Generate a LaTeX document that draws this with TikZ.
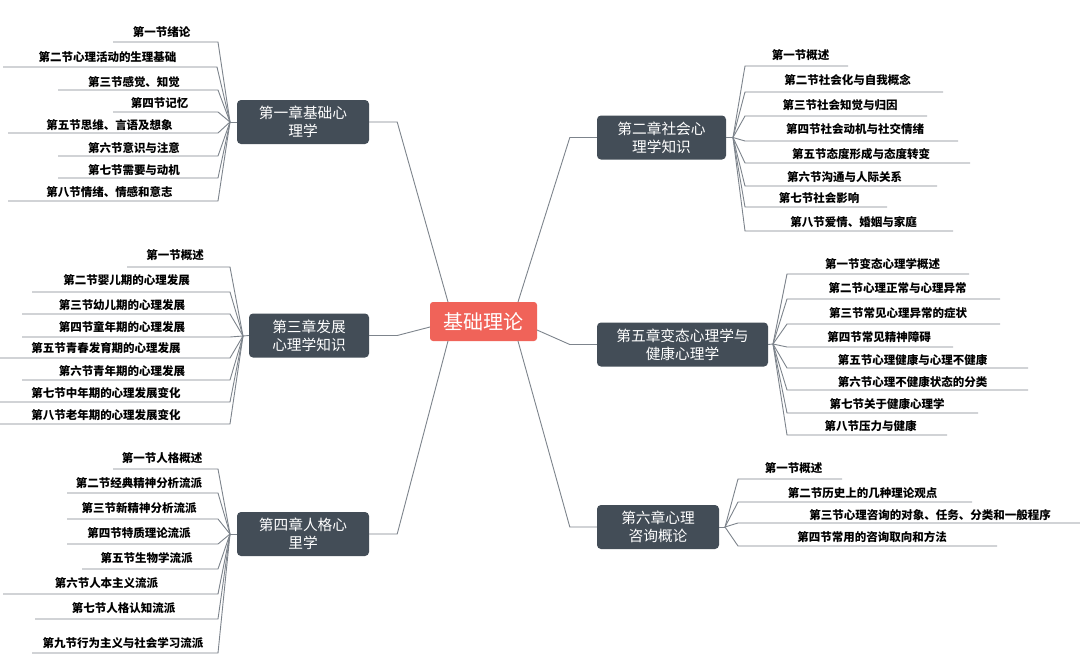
\documentclass[tikz,border=0pt]{standalone}
\usepackage{fontspec}
\setmainfont{Noto Sans CJK SC}
\usepackage{tikz}
\usetikzlibrary{positioning}

\definecolor{rootred}{RGB}{240,99,89}
\definecolor{chapgray}{RGB}{67,77,87}
\definecolor{linegray}{RGB}{125,132,140}

\tikzset{
  root/.style={fill=rootred, text=white, rounded corners=3pt, minimum width=107pt,
    minimum height=39pt, inner sep=0pt, font=\fontsize{20}{24}\selectfont},
  chap/.style={fill=chapgray, text=white, rounded corners=4pt, minimum height=44pt,
    inner sep=0pt, align=center, font=\fontsize{14.7}{18}\selectfont},
  leaf/.style={inner sep=0pt, text=black, font=\fontsize{11.5}{13}\selectfont\bfseries},
  branch/.style={draw=linegray, line width=0.9pt},
}

\begin{document}
\begin{tikzpicture}[x=1pt, y=-1pt]
  \useasboundingbox (0,0) rectangle (1080,659);
  \fill[white] (0,0) rectangle (1080,659);

  \node[root] (root) at (483.5,321.5) {基础理论};

  \node[chap, minimum width=132pt] (c1) at (303,122) {第一章基础心\\理学};
  \node[chap, minimum width=129pt] (c2) at (661.5,137.5) {第二章社会心\\理学知识};
  \node[chap, minimum width=120pt] (c3) at (309,335.5) {第三章发展\\心理学知识};
  \node[chap, minimum width=132pt] (c4) at (303,534) {第四章人格心\\里学};
  \node[chap, minimum width=171pt] (c5) at (682.5,344.5) {第五章变态心理学与\\健康心理学};
  \node[chap, minimum width=122pt] (c6) at (658,527) {第六章心理\\咨询概论};

  \coordinate (r1) at (448,302);
  \coordinate (r2) at (518,302);
  \coordinate (r3) at (430,327);
  \coordinate (r4) at (448,341);
  \coordinate (r5) at (537,330);
  \coordinate (r6) at (518,341);

  \draw[branch] (c1.east) -- ++(28,0) -- (r1);
  \draw[branch] (c2.west) -- ++(-27,0) -- (r2);
  \draw[branch] (c3.east) -- ++(28,0) -- (r3);
  \draw[branch] (c4.east) -- ++(28,0) -- (r4);
  \draw[branch] (c5.west) -- ++(-27,0) -- (r5);
  \draw[branch] (c6.west) -- ++(-27,0) -- (r6);

  \coordinate (k1) at (230,122);
  \coordinate (k2) at (733,137.5);
  \coordinate (k3) at (243,336);
  \coordinate (k4) at (230,534);
  \coordinate (k5) at (773,344);
  \coordinate (k6) at (725,527);
  \draw[branch] (c1.west) -- (k1);
  \draw[branch] (c2.east) -- (k2);
  \draw[branch] (c3.west) -- (k3);
  \draw[branch] (c4.west) -- (k4);
  \draw[branch] (c5.east) -- (k5);
  \draw[branch] (c6.east) -- (k6);

  \foreach \t/\cx/\ty/\ua/\ub/\uy [count=\i] in {
      第一节绪论/161.5/32/113/218/42,
      第二节心理活动的生理基础/107.5/57/3/217/67,
      第三节感觉、知觉/134/82/58/218/90,
      第四节记忆/159.5/103/113/218/112,
      第五节思维、言语及想象/109.5/125/8/218/133,
      第六节意识与注意/134/148/58/218/156,
      第七节需要与动机/134/170/58/218/178,
      第八节情绪、情感和意志/109.5/192/8/218/201}{
    \node[leaf] (s1-\i) at (\cx,\ty) {\t};
    \coordinate (s1-\i-l) at (\ua,\uy);
    \coordinate (s1-\i-r) at (\ub,\uy);
    \draw[branch] (s1-\i-l) -- (s1-\i-r) -- (k1);
  }

  \foreach \t/\cx/\ty/\ua/\ub/\uy [count=\i] in {
      第一节概述/800.5/55/745/848/66,
      第二节社会化与自我概念/847.5/80/745/943/92,
      第三节社会知觉与归因/840/105/745/927/116,
      第四节社会动机与社交情绪/855/129/745/958/141,
      第五节态度形成与态度转变/861/154/745/970/163,
      第六节沟通与人际关系/844.5/177/745/937/186,
      第七节社会影响/819/198/745/887/207,
      第八节爱情、婚姻与家庭/853.5/222/745/953/231}{
    \node[leaf] (s2-\i) at (\cx,\ty) {\t};
    \coordinate (s2-\i-l) at (\ua,\uy);
    \coordinate (s2-\i-r) at (\ub,\uy);
    \draw[branch] (s2-\i-r) -- (s2-\i-l) -- (k2);
  }

  \foreach \t/\cx/\ty/\ua/\ub/\uy [count=\i] in {
      第一节概述/175/255/127/230/267,
      第二节婴儿期的心理发展/126.5/280/32/230/292,
      第三节幼儿期的心理发展/122/305/22/230/314,
      第四节童年期的心理发展/122/327/22/230/337,
      第五节青春发育期的心理发展/106/348/0/230/358,
      第六节青年期的心理发展/122/371/22/230/380,
      第七节中年期的心理发展变化/106/393/0/230/402,
      第八节老年期的心理发展变化/106/415/0/230/424}{
    \node[leaf] (s3-\i) at (\cx,\ty) {\t};
    \coordinate (s3-\i-l) at (\ua,\uy);
    \coordinate (s3-\i-r) at (\ub,\uy);
    \draw[branch] (s3-\i-l) -- (s3-\i-r) -- (k3);
  }

  \foreach \t/\cx/\ty/\ua/\ub/\uy [count=\i] in {
      第一节人格概述/162/458/113/218/469,
      第二节经典精神分析流派/139/483/67/218/493,
      第三节新精神分析流派/139/508/67/218/519,
      第四节特质理论流派/139/533/67/218/544,
      第五节生物学流派/146.5/558/82/218/569,
      第六节人本主义流派/106.5/583/3/218/594,
      第七节人格认知流派/123.5/608/35/218/619,
      第九节行为主义与社会学习流派/123/643/32/218/653}{
    \node[leaf] (s4-\i) at (\cx,\ty) {\t};
    \coordinate (s4-\i-l) at (\ua,\uy);
    \coordinate (s4-\i-r) at (\ub,\uy);
    \draw[branch] (s4-\i-l) -- (s4-\i-r) -- (k4);
  }

  \foreach \t/\cx/\ty/\ua/\ub/\uy [count=\i] in {
      第一节变态心理学概述/882.5/264/787/969/274,
      第二节心理正常与心理异常/897.5/288/787/1000/299,
      第三节常见心理异常的症状/898/313/787/1000/324,
      第四节常见精神障碍/879/337/787/953/347,
      第五节心理健康与心理不健康/912.5/360/787/1028/368,
      第六节心理不健康状态的分类/912.5/382/787/1028/390,
      第七节关于健康心理学/887/404/787/978/413,
      第八节压力与健康/870.5/426/787/947/435}{
    \node[leaf] (s5-\i) at (\cx,\ty) {\t};
    \coordinate (s5-\i-l) at (\ua,\uy);
    \coordinate (s5-\i-r) at (\ub,\uy);
    \draw[branch] (s5-\i-r) -- (s5-\i-l) -- (k5);
  }

  \foreach \t/\cx/\ty/\ua/\ub/\uy [count=\i] in {
      第一节概述/793.5/468/738/842/479,
      第二节历史上的几种理论观点/862.5/493/738/972/502,
      第三节心理咨询的对象、任务、分类和一般程序/930/515/738/1080/523,
      第四节常用的咨询取向和方法/872/537/738/997/546}{
    \node[leaf] (s6-\i) at (\cx,\ty) {\t};
    \coordinate (s6-\i-l) at (\ua,\uy);
    \coordinate (s6-\i-r) at (\ub,\uy);
    \draw[branch] (s6-\i-r) -- (s6-\i-l) -- (k6);
  }
\end{tikzpicture}
\end{document}
